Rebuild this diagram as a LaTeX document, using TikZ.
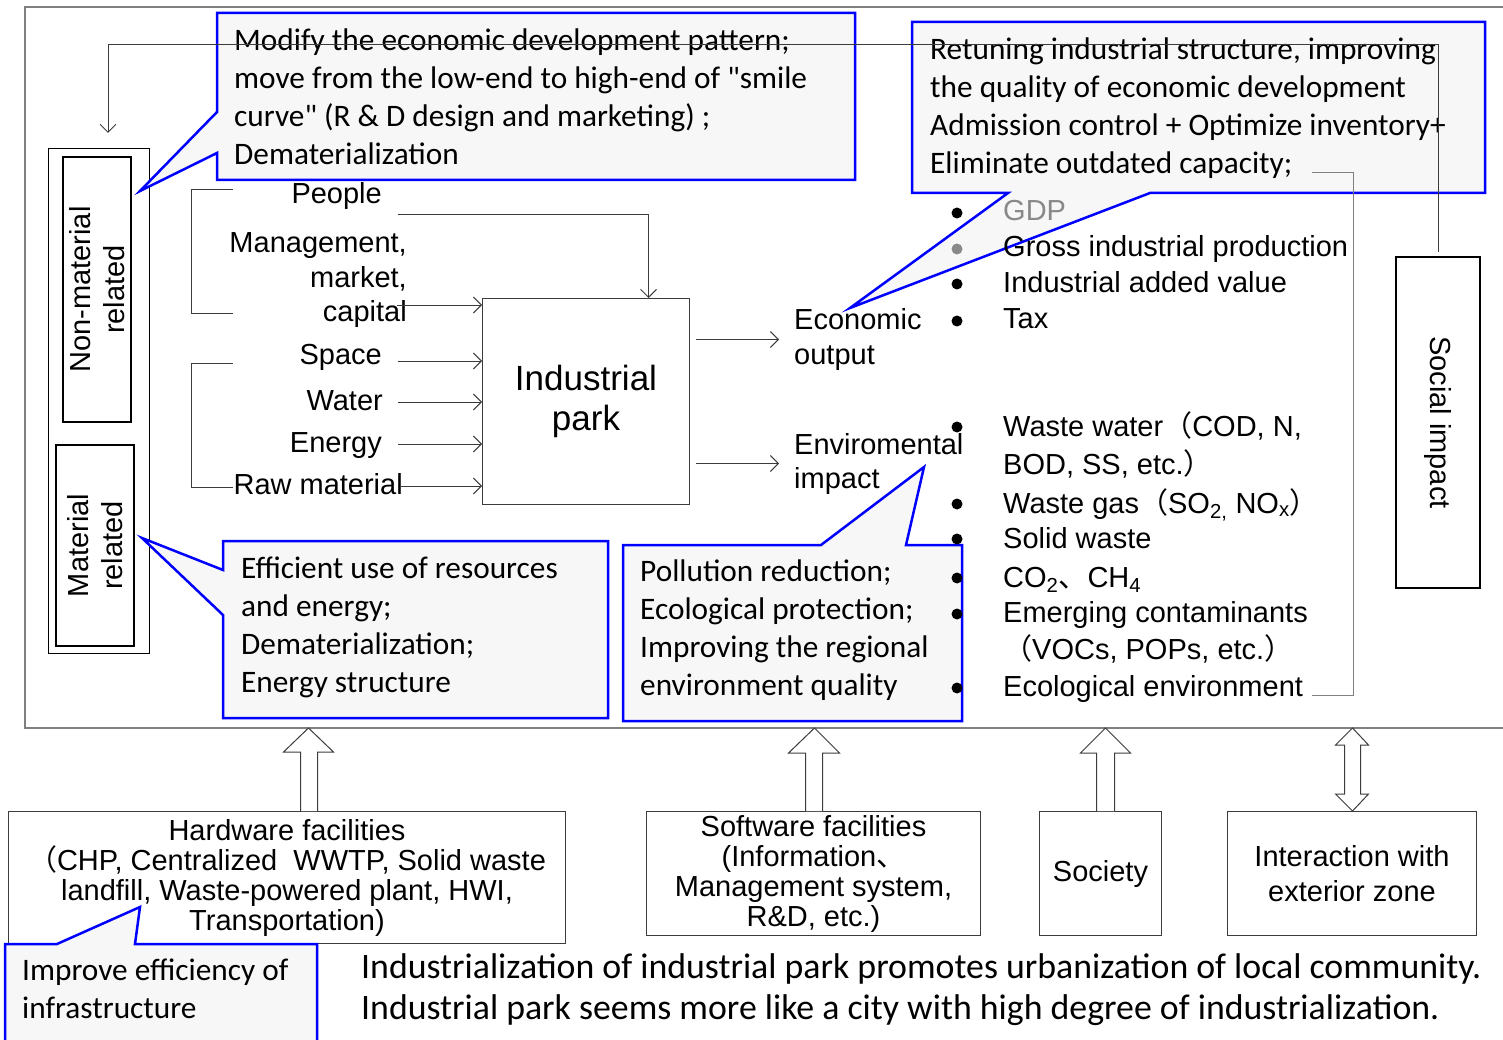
\documentclass[tikz,border=0pt]{standalone}
\usepackage{fontspec}
\setmainfont{Liberation Sans}
\newfontfamily\calfont{Carlito}
\newfontfamily\cjkf{Noto Sans CJK SC}
\usetikzlibrary{arrows.meta}
\newcommand\fw[1]{{\cjkf #1}}
\newcommand\sq{\XeTeXglyph\XeTeXcharglyph"22\relax}
\newcommand\LinesL[1]{\vtop{\lineskiplimit=-1000pt\halign{##\hfil\cr#1\crcr}}}
\newcommand\LinesC[1]{\vtop{\lineskiplimit=-1000pt\halign{\hfil##\hfil\cr#1\crcr}}}
\newcommand\LinesR[1]{\vtop{\lineskiplimit=-1000pt\halign{\hfil##\cr#1\crcr}}}
\definecolor{cblue}{RGB}{0,0,255}
\definecolor{cfill}{RGB}{247,247,247}
\definecolor{lgray}{RGB}{60,60,60}
\definecolor{frgray}{RGB}{128,128,128}
\definecolor{gdpgray}{RGB}{137,137,137}
\begin{document}
\begin{tikzpicture}[x=1pt,y=-1pt,
  lbl/.style={font=\fontsize{29}{34.5}\selectfont, inner sep=0pt},
  cal/.style={font=\calfont\fontsize{31.3}{38}\selectfont, inner sep=0pt, anchor=base west},
  callout/.style={draw=cblue, fill=cfill, line width=2.5pt, line join=miter},
  arr/.style={draw=lgray, line width=0.9pt, -{Straight Barb[length=8pt,width=16pt]}},
  ln/.style={draw=lgray, line width=0.9pt},
  boxn/.style={draw=lgray, inner sep=0pt, anchor=north west, line width=1pt, font=\fontsize{29}{30}\selectfont},
  blk/.style={draw=lgray, fill=white, line width=1pt, line join=miter},
]
\useasboundingbox (0,0) rectangle (1503,1040);

% outer frame
\draw[draw=frgray, line width=1.2pt] (1503,7) -- (25,7) -- (25,728) -- (1503,728);

% left group
\node[draw, line width=0.8pt, anchor=north west, minimum width=101pt, minimum height=505pt, inner sep=0pt] (grp) at (48,148) {};
\node[draw, line width=2pt, anchor=north west, minimum width=68pt, minimum height=265pt, inner sep=0pt] (nonmat) at (62,156) {};
\node[lbl, rotate=90] (nonmatt) at (nonmat.center) {\LinesC{Non-material\cr related}};
\node[draw, line width=2pt, anchor=north west, minimum width=78pt, minimum height=201pt, inner sep=0pt] (mat) at (55,444) {};
\node[lbl, rotate=90] (matt) at (mat.center) {\LinesC{Material\cr related}};

% social impact
\node[draw, line width=2pt, anchor=north west, minimum width=84pt, minimum height=331pt, inner sep=0pt] (social) at (1395,256) {};
\node[lbl, rotate=-90] (socialt) at (social.center) {Social impact};

% bottom boxes
\node[boxn, minimum width=557pt, minimum height=132pt] (hw) at (8,811) {\LinesC{Hardware facilities\cr \fw{（}CHP, Centralized\ \ WWTP, Solid waste\cr landfill, Waste-powered plant, HWI,\cr Transportation)}};
\node[boxn, minimum width=334pt, minimum height=124pt] (sw) at (646,811) {\LinesC{Software facilities\cr (Information\fw{、}\cr Management system,\cr R\&D, etc.)}};
\node[boxn, minimum width=122pt, minimum height=124pt] (soc) at (1039,811) {Society};
\node[boxn, minimum width=249pt, minimum height=124pt, font=\fontsize{29}{34.5}\selectfont] (int) at (1227,811) {\LinesC{Interaction with\cr exterior zone}};

% block arrows
\draw[blk] ([xshift=13.5pt]hw.north) -- ++(0,-59) -- ++(-17,0) -- ++(25,-24) -- ++(25,24) -- ++(-16,0) -- ++(0,59);
\draw[blk] ([xshift=-8pt]sw.north) -- ++(0,-58) -- ++(-17,0) -- ++(26,-25) -- ++(25,25) -- ++(-17,0) -- ++(0,58);
\draw[blk] ([xshift=-4pt]soc.north) -- ++(0,-58) -- ++(-16,0) -- ++(25,-25) -- ++(25,25) -- ++(-16,0) -- ++(0,58);
\draw[blk] ([xshift=0.5pt]int.north) -- ++(-17,-17) -- ++(9,0) -- ++(0,-49) -- ++(-9,0) -- ++(17,-17) -- ++(16,17) -- ++(-8,0) -- ++(0,49) -- ++(8,0) -- cycle;

% callouts
\draw[callout] (217,13) -- (855,13) -- (855,180) -- (217,180) -- (217,153) -- (140,191) -- (217,112) -- cycle;
\draw[callout] (912,22) -- (1485,22) -- (1485,193) -- (1150,193) -- (850,308) -- (1008,193) -- (912,193) -- cycle;
\draw[callout] (223,541) -- (608,541) -- (608,718) -- (223,718) -- (223,615) -- (142,538) -- (223,570) -- cycle;
\draw[callout] (623,545) -- (821,545) -- (924,467) -- (906,545) -- (962,545) -- (962,721) -- (623,721) -- cycle;
\draw[callout] (5,1042) -- (5,944) -- (57,944) -- (140,907) -- (135,944) -- (317,944) -- (317,1042);

\node[cal] (c1) at (234,51) {\LinesL{Modify the economic development pattern;\cr move from the low-end to high-end of \sq smile\cr curve\sq\ (R \& D design and marketing) ;\cr Dematerialization}};
\node[cal] (c2) at (930,60) {\LinesL{Retuning industrial structure, improving\cr the quality of economic development\cr Admission control + Optimize inventory+\cr Eliminate outdated capacity;}};
\node[cal] (c3) at (241,578) {\LinesL{Efficient use of resources\cr and energy;\cr Dematerialization;\cr Energy structure}};
\node[cal] (c4) at (640,581) {\LinesL{Pollution reduction;\cr Ecological protection;\cr Improving the regional\cr environment quality}};
\node[cal] (c5) at (22,980) {\LinesL{Improve efficiency of\cr infrastructure}};

% industrial park
\node[draw=lgray, line width=1pt, anchor=north west, minimum width=207pt, minimum height=206pt, inner sep=0pt, font=\fontsize{35}{40}\selectfont] (park) at (482,298) {\LinesC{Industrial\cr park}};

% inputs
\node[lbl, anchor=base east] (people) at (382,204) {People};
\node[lbl, anchor=base east] (mgmt) at (407,253) {\LinesR{Management,\cr market,\cr capital}};
\node[lbl, anchor=base east] (space) at (382,364) {Space};
\node[lbl, anchor=base east] (water) at (383,410) {Water};
\node[lbl, anchor=base east] (energy) at (382,452) {Energy};
\node[lbl, anchor=base east] (raw) at (403,494) {Raw material};

\draw[ln] (233,189) -| (191,313) -- (233,313);
\draw[ln] (233,363) -| (191,487) -- (233,487);

\coordinate (pplout) at (398,214);
\draw[arr] (pplout) -| ([xshift=62.5pt]park.north);
\draw[arr] ([xshift=-10pt]mgmt.east |- 0,305) -- (park.west |- 0,305);
\draw[arr] ([xshift=16pt]space.east |- 0,361) -- (park.west |- 0,361);
\draw[arr] ([xshift=15pt]water.east |- 0,402) -- (park.west |- 0,402);
\draw[arr] ([xshift=16pt]energy.east |- 0,444) -- (park.west |- 0,444);
\draw[arr] ([xshift=-3pt]raw.east |- 0,486) -- (park.west |- 0,486);

% outputs
\draw[arr] ([shift={(6,-62)}]park.east) -- ++(83,0);
\draw[arr] ([shift={(6,62)}]park.east) -- ++(83,0);
\node[lbl, anchor=base west] (eco) at (794,330) {\LinesL{Economic\cr output}};
\node[lbl, anchor=base west] (env) at (794,454) {\LinesL{Enviromental\cr impact}};

% economic list
\fill (957,213) circle[radius=5.5pt];
\fill[gdpgray] (957,249) circle[radius=5.5pt];
\fill (957,284) circle[radius=5.5pt];
\fill (957,321) circle[radius=5.5pt];
\node[lbl, anchor=base west, text=gdpgray] (gdp) at (1003,221) {GDP};
\node[lbl, anchor=base west] (gip) at (1003,257) {Gross industrial production};
\node[lbl, anchor=base west] (iav) at (1003,293) {Industrial added value};
\node[lbl, anchor=base west] (tax) at (1003,328) {Tax};

% environmental list
\foreach \yy in {427,504,539,578,614,688} \fill (957,\yy) circle[radius=5.5pt];
\node[lbl, anchor=base west] (ww) at (1003,436) {Waste water\fw{（}COD, N,};
\node[lbl, anchor=base west] (bod) at (1003,474) {BOD, SS, etc.\fw{）}};
\node[lbl, anchor=base west] (wg) at (1003,513) {Waste gas\fw{（}SO\textsubscript{2,} NO\textsubscript{x}\fw{）}};
\node[lbl, anchor=base west] (sw2) at (1003,548) {Solid waste};
\node[lbl, anchor=base west] (co2) at (1003,587) {CO\textsubscript{2}\fw{、}CH\textsubscript{4}};
\node[lbl, anchor=base west] (emc) at (1003,622) {Emerging contaminants};
\node[lbl, anchor=base west] (voc) at (1003,659) {\fw{（}VOCs, POPs, etc.\fw{）}};
\node[lbl, anchor=base west] (eco2) at (1003,696) {Ecological environment};

% brackets and loop
\draw[draw=frgray, line width=0.9pt] (1312,172) -| (1353,695) -- (1312,695);
\coordinate (loopend) at (108,133);
\draw[arr] ([yshift=4pt]social.north) -- ++(0,-208) -| (loopend);

% bottom text
\node[font=\calfont\fontsize{35.8}{41.5}\selectfont, inner sep=0pt, anchor=base west] (bottom) at (361,978) {\LinesL{Industrialization of industrial park promotes urbanization of local community.\cr Industrial park seems more like a city with high degree of industrialization.}};
\end{tikzpicture}
\end{document}
